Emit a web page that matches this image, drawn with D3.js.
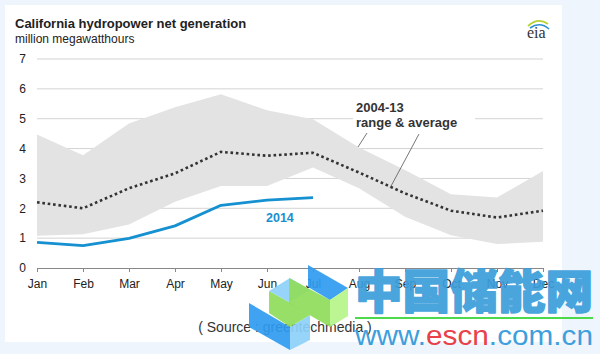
<!DOCTYPE html>
<html>
<head>
<meta charset="utf-8">
<script src="https://cdn.jsdelivr.net/npm/d3@7"></script>
<style>
  html, body { margin: 0; padding: 0; background: #eef5fc; }
  svg { display: block; }
</style>
</head>
<body>
<svg id="chart" width="600" height="354"></svg>
<script>
// values (million MWh)
const months = ["Jan", "Feb", "Mar", "Apr", "May", "Jun", "Jul", "Aug", "Sep", "Oct", "Nov", "Dec"];
const rangeHigh = [4.47, 3.78, 4.84, 5.38, 5.82, 5.28, 4.98, 4.04, 3.28, 2.47, 2.36, 3.25];
const rangeLow = [1.08, 1.13, 1.46, 2.22, 2.75, 2.75, 3.37, 2.67, 1.72, 1.10, 0.80, 0.88];
const average = [2.20, 2.00, 2.67, 3.17, 3.89, 3.76, 3.86, 3.20, 2.50, 1.92, 1.69, 1.92];
const gen2014 = [0.86, 0.75, 0.99, 1.41, 2.10, 2.27, 2.36];
const yTicks = [0, 1, 2, 3, 4, 5, 6, 7];

const font = "'Liberation Sans', Arial, sans-serif";
const svg = d3.select("#chart");

// page + white card
svg.append("rect").attr("width", 600).attr("height", 354).attr("fill", "#eef5fc");
svg.append("rect").attr("x", 5).attr("y", 5).attr("width", 557).attr("height", 337).attr("fill", "#fff");

const x = d3.scalePoint().domain(months).range([37, 543]);
const y = d3.scaleLinear().domain([0, 7]).range([268, 59]);

// gridlines
svg.append("g").selectAll("line").data(yTicks.filter(d => d > 0)).enter()
    .append("line")
    .attr("x1", 37).attr("x2", 543)
    .attr("y1", d => y(d)).attr("y2", d => y(d))
    .attr("stroke", "#d3d3d3").attr("stroke-width", 1);

// y labels
svg.append("g").selectAll("text").data(yTicks).enter()
    .append("text")
    .attr("x", 26).attr("y", d => y(d)).attr("dy", "0.36em")
    .attr("text-anchor", "end")
    .attr("font-family", font).attr("font-size", 12).attr("fill", "#222")
    .text(d => d);

// range band
const band = months.map((m, i) => ({m: m, lo: rangeLow[i], hi: rangeHigh[i]}));
svg.append("path")
    .datum(band)
    .attr("fill", "#e3e3e3")
    .attr("d", d3.area().x(d => x(d.m)).y0(d => y(d.lo)).y1(d => y(d.hi)));

// average dotted
svg.append("path")
    .datum(months.map((m, i) => ({m: m, v: average[i]})))
    .attr("fill", "none")
    .attr("stroke", "#333")
    .attr("stroke-width", 2.6)
    .attr("stroke-dasharray", "2.6,2.8")
    .attr("d", d3.line().x(d => x(d.m)).y(d => y(d.v)));

// 2014
svg.append("path")
    .datum(gen2014.map((v, i) => ({m: months[i], v: v})))
    .attr("fill", "none")
    .attr("stroke", "#1590d0")
    .attr("stroke-width", 2.8)
    .attr("stroke-linejoin", "round")
    .attr("d", d3.line().x(d => x(d.m)).y(d => y(d.v)));

// x axis
const xAxis = svg.append("g")
    .attr("transform", "translate(0,268)")
    .call(d3.axisBottom(x).tickSize(4).tickSizeOuter(0).tickPadding(7));
xAxis.select(".domain").attr("stroke", "#888");
xAxis.selectAll(".tick line").attr("stroke", "#888");
xAxis.selectAll(".tick text").attr("font-family", font).attr("font-size", 12).attr("fill", "#222");

// annotations
svg.append("rect").attr("x", 353).attr("y", 99).attr("width", 122).attr("height", 31).attr("fill", "#fff");
const ann = svg.append("text").attr("font-family", font).attr("font-size", 13)
    .attr("font-weight", "bold").attr("fill", "#333");
ann.append("tspan").attr("x", 356).attr("y", 112).text("2004-13");
ann.append("tspan").attr("x", 356).attr("y", 127).text("range & average");
svg.append("line").attr("x1", 367).attr("y1", 133).attr("x2", 358).attr("y2", 147)
    .attr("stroke", "#555").attr("stroke-width", 0.8);
svg.append("line").attr("x1", 419).attr("y1", 134).attr("x2", 390).attr("y2", 188)
    .attr("stroke", "#555").attr("stroke-width", 0.8);

svg.append("text").attr("x", 266).attr("y", 222)
    .attr("font-family", font).attr("font-size", 12.5).attr("font-weight", "bold")
    .attr("fill", "#1a8fcf").text("2014");

// title
svg.append("text").attr("x", 15).attr("y", 28)
    .attr("font-family", font).attr("font-size", 13).attr("font-weight", "bold")
    .attr("fill", "#222").text("California hydropower net generation");
svg.append("text").attr("x", 15).attr("y", 43)
    .attr("font-family", font).attr("font-size", 12)
    .attr("fill", "#222").text("million megawatthours");

// eia logo
svg.append("path").attr("d", "M528,26 Q538,17 548,24").attr("fill", "none")
    .attr("stroke", "#b5d334").attr("stroke-width", 1.8);
svg.append("path").attr("d", "M530,28 Q540,21 549,29").attr("fill", "none")
    .attr("stroke", "#2a8fd0").attr("stroke-width", 1.6);
svg.append("text").attr("x", 527).attr("y", 38)
    .attr("font-family", "'Liberation Serif', 'DejaVu Serif', serif").attr("font-size", 16)
    .attr("fill", "#333").text("eia");

// source
svg.append("text").attr("x", 285).attr("y", 332).attr("text-anchor", "middle")
    .attr("font-family", font).attr("font-size", 14).attr("fill", "#333")
    .text("( Source : greentechmedia )");

// watermark logo
const wm = svg.append("g");
const polys = [
    {c: "#2f9bf0", p: [[249, 303], [290, 327], [290, 350], [249, 327]]},
    {c: "#8dd0fa", p: [[290, 327], [310, 315], [310, 340], [290, 350]]},
    {c: "#8fdc5a", p: [[269, 291], [289, 302], [310, 315], [290, 327], [269, 313]]},
    {c: "#8dd0fa", p: [[269, 291], [290, 278], [310, 290], [289, 302]]},
    {c: "#8fdc5a", p: [[289, 278], [330, 300], [330, 327], [289, 303]]},
    {c: "#2f9bf0", p: [[308, 265], [348, 288], [330, 300], [308, 287]]},
    {c: "#b6f58a", p: [[330, 300], [348, 288], [348, 316], [330, 327]]}
];
wm.selectAll("polygon").data(polys).enter().append("polygon")
    .attr("points", d => d.p.map(q => q.join(",")).join(" "))
    .attr("fill", d => d.c).attr("opacity", 0.92);

svg.append("text").attr("x", 355).attr("y", 308)
    .attr("font-family", "'Noto Sans CJK SC', sans-serif").attr("font-size", 46)
    .attr("font-weight", "900").attr("fill", "#3b9edb").attr("opacity", 0.92)
    .attr("stroke", "#3b9edb").attr("stroke-width", 1.6).attr("stroke-linejoin", "round")
    .attr("textLength", 238).attr("lengthAdjust", "spacingAndGlyphs")
    .text("中国储能网");
svg.append("rect").attr("x", 355).attr("y", 317).attr("width", 238).attr("height", 2).attr("fill", "#4cd94c");
const url = svg.append("text").attr("x", 355).attr("y", 345)
    .attr("font-family", font).attr("font-size", 27)
    .attr("textLength", 238).attr("lengthAdjust", "spacingAndGlyphs");
url.append("tspan").attr("fill", "#3e9fdc").text("www.");
url.append("tspan").attr("fill", "#e8414a").text("escn");
url.append("tspan").attr("fill", "#3e9fdc").text(".com.cn");
</script>
</body>
</html>
